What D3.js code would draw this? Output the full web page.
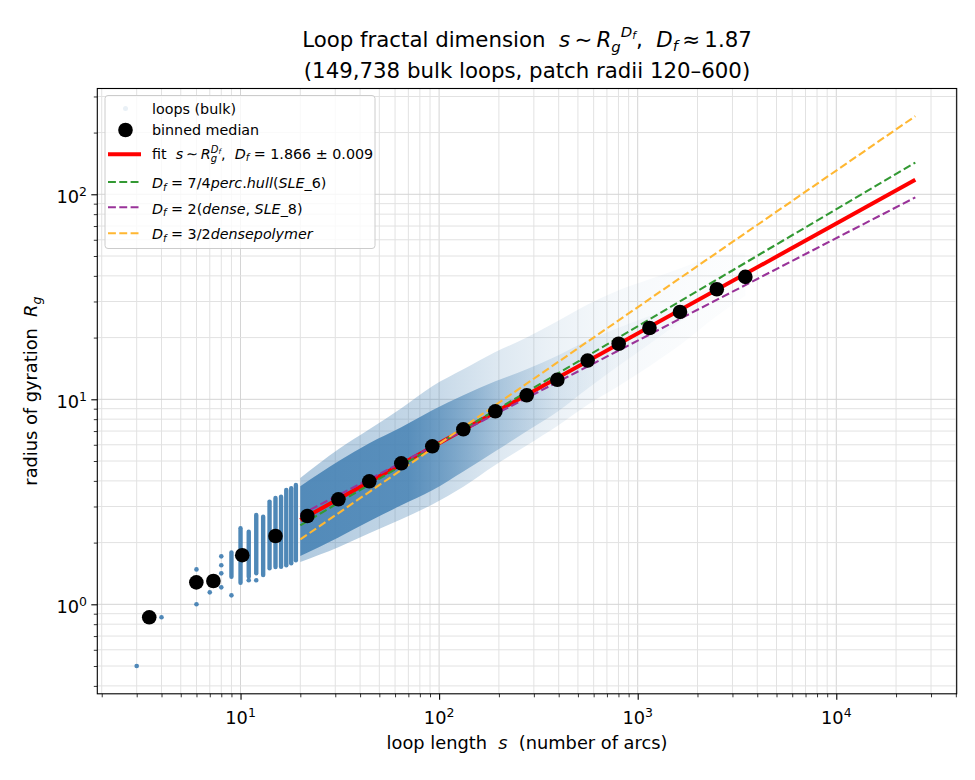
<!DOCTYPE html>
<html>
<head>
<meta charset="utf-8">
<script src="https://cdn.jsdelivr.net/npm/d3@7"></script>
<style>
  html, body { margin: 0; padding: 0; background: #fff; }
  svg { display: block; }
  text { font-family: "DejaVu Sans", sans-serif; fill: #000; }
</style>
</head>
<body>
<svg id="chart" width="975" height="780"></svg>
<script>
// ---------------- data ----------------
// binned medians
const medianS = [3.47, 5.99, 7.30, 10.2, 15.0, 21.7, 31.1, 44.5, 64.5, 92.4, 132.4, 191.9, 276.1, 393.8, 559.5, 802, 1146, 1633, 2502, 3483];
const medianR = [0.864, 1.280, 1.299, 1.736, 2.154, 2.696, 3.252, 3.981, 4.873, 5.898, 7.140, 8.739, 10.46, 12.45, 15.45, 18.66, 22.27, 26.67, 34.41, 39.55];

// isolated loops at small s
const pointS = [3, 4, 6, 6, 6, 7, 7, 8, 8, 8, 8, 9, 11, 12];
const pointR = [0.5, 0.864, 1.0, 1.28, 1.48, 1.144, 1.30, 1.714, 1.55, 1.416, 1.21, 1.106, 1.31, 1.31];

// dense integer-s columns (min / max Rg)
const colS  = [9, 10, 11, 12, 13, 14, 15, 16, 17, 18, 19];
const colLo = [1.363, 1.274, 1.363, 1.416, 1.39, 1.50, 1.52, 1.525, 1.55, 1.585, 1.64];
const colHi = [1.79, 2.35, 2.26, 2.73, 2.675, 3.17, 3.30, 3.35, 3.61, 3.68, 3.82];

// scatter cloud envelope for s >= 20
const cloudS       = [20, 31.1, 44.5, 64.5, 92.4, 132.4, 191.9, 276, 394, 560, 802, 1146, 1633, 2502, 3483];
const cloudOuterHi = [4.13, 5.70, 7.14, 9.04, 11.57, 14.0, 17.0, 20.0, 24.0, 29.0, 34.0, 38.5, 43.5, 50.0, 51.5];
const cloudInnerHi = [3.77, 4.98, 6.10, 7.30, 8.84, 10.46, 12.24, 14.01, 16.30, 19.33, 22.33, 25.49, 29.16, 35.98, 39.55];
const cloudInnerLo = [1.72, 2.12, 2.54, 3.04, 3.60, 4.45, 5.58, 6.98, 8.69, 11.28, 14.57, 18.62, 23.83, 32.89, 39.55];
const cloudOuterLo = [1.61, 1.90, 2.22, 2.60, 3.07, 3.75, 4.78, 5.95, 7.40, 9.40, 11.6, 14.5, 18.4, 25.5, 32.0];

// fit and reference power laws: endpoints (s, Rg)
const lineNames = ["fit", "perc", "dense", "polymer"];
const lineS0 = [20, 20, 20, 20];
const lineS1 = [25000, 25000, 25000, 25000];
const lineR0 = [2.575, 2.427, 2.733, 2.073];
const lineR1 = [117.6, 142.8, 96.6, 240.5];

// ticks
const xMajorTicks = [10, 100, 1000, 10000];
const xMajorExp = ["1", "2", "3", "4"];
const yMajorTicks = [1, 10, 100];
const yMajorExp = ["0", "1", "2"];

// ---------------- layout ----------------
const svg = d3.select("#chart");
const L = 97.3, R = 956.7, T = 88.5, B = 693.8;
const x = d3.scaleLog().domain([1.90, 40400]).range([L, R]);
const y = d3.scaleLog().domain([0.366, 328.1]).range([B, T]);
const steel = "#4682b4";

const defs = svg.append("defs");
defs.append("clipPath").attr("id", "plotclip")
  .append("rect").attr("x", L).attr("y", T).attr("width", R - L).attr("height", B - T);

// grid
const isMajor = v => Math.abs(Math.log10(v) - Math.round(Math.log10(v))) < 1e-9;
const xAll = x.ticks().filter(v => v >= x.domain()[0] && v <= x.domain()[1]);
const yAll = y.ticks().filter(v => v >= y.domain()[0] && v <= y.domain()[1]);
const grid = svg.append("g");
grid.selectAll("line.gx").data(xAll).join("line")
  .attr("x1", d => x(d)).attr("x2", d => x(d)).attr("y1", T).attr("y2", B)
  .attr("stroke", d => isMajor(d) ? "#d4d4d4" : "#e2e2e2").attr("stroke-width", 1);
grid.selectAll("line.gy").data(yAll).join("line")
  .attr("y1", d => y(d)).attr("y2", d => y(d)).attr("x1", L).attr("x2", R)
  .attr("stroke", d => isMajor(d) ? "#d4d4d4" : "#e2e2e2").attr("stroke-width", 1);

const plot = svg.append("g").attr("clip-path", "url(#plotclip)");

// cloud gradients (opacity fades with s)
function makeGrad(id, stopsS, alphas) {
  const x1 = x(cloudS[0]), x2 = x(cloudS[cloudS.length - 1]);
  const gr = defs.append("linearGradient").attr("id", id)
    .attr("gradientUnits", "userSpaceOnUse")
    .attr("x1", x1).attr("x2", x2).attr("y1", 0).attr("y2", 0);
  stopsS.forEach((s, i) => {
    gr.append("stop").attr("offset", (x(s) - x1) / (x2 - x1))
      .attr("stop-color", steel).attr("stop-opacity", alphas[i]);
  });
}
makeGrad("gOuter", [20, 100, 200, 400, 800, 2000, 3483], [0.42, 0.3, 0.18, 0.1, 0.05, 0.025, 0.015]);
makeGrad("gInner", [20, 70, 120, 200, 400, 800, 3483], [0.88, 0.85, 0.6, 0.35, 0.14, 0.05, 0.01]);

const cloud = cloudS.map((s, i) => ({ s, oh: cloudOuterHi[i], ih: cloudInnerHi[i], il: cloudInnerLo[i], ol: cloudOuterLo[i] }));
const areaOuter = d3.area().x(d => x(d.s)).y0(d => y(d.ol)).y1(d => y(d.oh)).curve(d3.curveMonotoneX);
const areaInner = d3.area().x(d => x(d.s)).y0(d => y(d.il)).y1(d => y(d.ih)).curve(d3.curveMonotoneX);
plot.append("path").datum(cloud).attr("d", areaOuter).attr("fill", "url(#gOuter)");
plot.append("path").datum(cloud).attr("d", areaInner).attr("fill", "url(#gInner)");

// integer-s columns
plot.selectAll("line.col").data(colS).join("line")
  .attr("x1", d => x(d)).attr("x2", d => x(d))
  .attr("y1", (d, i) => y(colLo[i])).attr("y2", (d, i) => y(colHi[i]))
  .attr("stroke", steel).attr("stroke-width", 4.4).attr("stroke-linecap", "round").attr("opacity", 0.95);

// isolated points
plot.selectAll("circle.pt").data(pointS).join("circle")
  .attr("cx", d => x(d)).attr("cy", (d, i) => y(pointR[i])).attr("r", 2.3)
  .attr("fill", steel).attr("opacity", 0.95);

// lines
const lineStyle = {
  fit:     { color: "#ff0000", width: 4, dash: null },
  perc:    { color: "#339933", width: 2.1, dash: "7.9,3.4" },
  dense:   { color: "#993399", width: 2.1, dash: "7.9,3.4" },
  polymer: { color: "#ffb732", width: 2.1, dash: "7.9,3.4" }
};
const lineGen = d3.line().x(d => x(d[0])).y(d => y(d[1]));
lineNames.forEach((n, i) => {
  const st = lineStyle[n];
  plot.append("path").datum([[lineS0[i], lineR0[i]], [lineS1[i], lineR1[i]]])
    .attr("d", lineGen).attr("fill", "none")
    .attr("stroke", st.color).attr("stroke-width", st.width)
    .attr("stroke-dasharray", st.dash);
});

// medians
plot.selectAll("circle.med").data(medianS).join("circle")
  .attr("cx", d => x(d)).attr("cy", (d, i) => y(medianR[i])).attr("r", 7.3).attr("fill", "#000");

// axes frame & ticks
const xMinor = xAll.filter(v => !isMajor(v));
const yMinor = yAll.filter(v => !isMajor(v));
const axX = svg.append("g").attr("transform", `translate(0,${B})`);
axX.call(d3.axisBottom(x).tickValues(xMajorTicks).tickSize(6).tickFormat(""));
const axXm = svg.append("g").attr("transform", `translate(0,${B})`);
axXm.call(d3.axisBottom(x).tickValues(xMinor).tickSize(3.5).tickFormat(""));
const axY = svg.append("g").attr("transform", `translate(${L},0)`);
axY.call(d3.axisLeft(y).tickValues(yMajorTicks).tickSize(6).tickFormat(""));
const axYm = svg.append("g").attr("transform", `translate(${L},0)`);
axYm.call(d3.axisLeft(y).tickValues(yMinor).tickSize(3.5).tickFormat(""));
[axX, axXm, axY, axYm].forEach(a => { a.select(".domain").remove(); });
axX.selectAll("line").attr("stroke", "#000").attr("stroke-width", 1.1);
axY.selectAll("line").attr("stroke", "#000").attr("stroke-width", 1.1);
axXm.selectAll("line").attr("stroke", "#000").attr("stroke-width", 0.8);
axYm.selectAll("line").attr("stroke", "#000").attr("stroke-width", 0.8);
svg.append("rect").attr("x", L).attr("y", T).attr("width", R - L).attr("height", B - T)
  .attr("fill", "none").attr("stroke", "#000").attr("stroke-width", 1.1);

// tick labels with superscripts
const tickFS = 17.8;
xMajorTicks.forEach((v, i) => {
  const t = svg.append("text").attr("x", x(v)).attr("y", 724).attr("text-anchor", "middle")
    .style("font-size", tickFS + "px");
  t.append("tspan").text("10");
  t.append("tspan").text(xMajorExp[i]).style("font-size", (tickFS * 0.7) + "px").attr("dy", -7);
});
yMajorTicks.forEach((v, i) => {
  const t = svg.append("text").attr("x", 87).attr("y", y(v) + 8.5).attr("text-anchor", "end")
    .style("font-size", tickFS + "px");
  t.append("tspan").text("10");
  t.append("tspan").text(yMajorExp[i]).style("font-size", (tickFS * 0.7) + "px").attr("dy", -7);
});

// math text helper: one <text> element, one absolutely-placed tspan per part
const measurer = svg.append("text").attr("x", -1000).attr("y", -1000)
  .attr("xml:space", "preserve").style("white-space", "pre");
function measure(str, size, italic) {
  measurer.style("font-size", size + "px").style("font-style", italic ? "italic" : "normal").text(str);
  return measurer.node().getComputedTextLength();
}
function mathText(parent, parts, fs) {
  let cx = 0, maxEnd = 0;
  const marks = {};
  const placed = [];
  parts.forEach(p => {
    if (p.at !== undefined) cx = marks[p.at];
    if (p.max) cx = Math.max(cx, maxEnd);
    if (p.mark) marks[p.mark] = cx;
    const size = fs * (p.s || 1);
    placed.push({ p, x: cx, size });
    cx += measure(p.t, size, p.it);
    maxEnd = Math.max(maxEnd, cx);
  });
  const g = parent.append("g");
  const t = g.append("text").attr("xml:space", "preserve").style("white-space", "pre")
    .style("font-size", fs + "px");
  placed.forEach(o => {
    t.append("tspan").attr("x", o.x).attr("y", (o.p.dy || 0) * fs)
      .style("font-size", o.size + "px").style("font-style", o.p.it ? "italic" : "normal")
      .text(o.p.t);
  });
  return { g, width: maxEnd };
}
const th = "\u2009";

// title (sub- and superscript set side by side to keep their boxes apart)
const titleFS = 21.3;
const t1 = mathText(svg, [
  { t: "Loop fractal dimension  " }, { t: "s", it: true }, { t: th + "\u223C" + th },
  { t: "R", it: true }, { t: "g", it: true, s: 0.7, dy: 0.22 },
  { t: "D", it: true, s: 0.7, dy: -0.45 }, { t: "f", it: true, s: 0.5, dy: -0.36 },
  { t: ",  " }, { t: "D", it: true }, { t: "f", it: true, s: 0.7, dy: 0.18 },
  { t: th + "\u2248" + th + "1.87" }
], titleFS);
t1.g.attr("transform", `translate(${(L + R) / 2 - t1.width / 2},47)`);
svg.append("text").attr("x", (L + R) / 2).attr("y", 78).attr("text-anchor", "middle")
  .style("font-size", titleFS + "px").text("(149,738 bulk loops, patch radii 120\u2013600)");

// axis labels
const labFS = 17.8;
const xl = mathText(svg, [
  { t: "loop length  " }, { t: "s", it: true }, { t: "  (number of arcs)" }
], labFS);
xl.g.attr("transform", `translate(${(L + R) / 2 - xl.width / 2},749)`);
const yl = mathText(svg, [
  { t: "radius of gyration  " }, { t: "R", it: true }, { t: "g", it: true, s: 0.7, dy: 0.22 }
], labFS);
yl.g.attr("transform", `translate(37,${(T + B) / 2 + yl.width / 2}) rotate(-90)`);

// legend
const legFS = 14.3;
const leg = svg.append("g");
leg.append("rect").attr("x", 105).attr("y", 95.5).attr("width", 270).attr("height", 153)
  .attr("rx", 3).attr("fill", "#fff").attr("fill-opacity", 0.8)
  .attr("stroke", "#cccccc").attr("stroke-width", 1);
leg.append("circle").attr("cx", 125.5).attr("cy", 108.5).attr("r", 2.5).attr("fill", steel).attr("opacity", 0.12);
leg.append("circle").attr("cx", 125.5).attr("cy", 130).attr("r", 7.3).attr("fill", "#000");
const legLineY = [154.3, 182, 207.3, 233.3];
lineNames.forEach((n, i) => {
  const st = lineStyle[n];
  leg.append("line").attr("x1", 108).attr("x2", 141).attr("y1", legLineY[i]).attr("y2", legLineY[i])
    .attr("stroke", st.color).attr("stroke-width", st.width).attr("stroke-dasharray", st.dash);
});
leg.append("text").attr("x", 152).attr("y", 114).style("font-size", legFS + "px").text("loops (bulk)");
leg.append("text").attr("x", 152).attr("y", 134.5).style("font-size", legFS + "px").text("binned median");
const legTexts = [
  [{ t: "fit  " }, { t: "s", it: true }, { t: th + "\u223C" + th }, { t: "R", it: true },
   { t: "g", it: true, s: 0.7, dy: 0.22, mark: "r" }, { t: "D", it: true, s: 0.7, dy: -0.42, at: "r" },
   { t: "f", it: true, s: 0.5, dy: -0.33 }, { t: ",  ", max: true }, { t: "D", it: true },
   { t: "f", it: true, s: 0.7, dy: 0.18 }, { t: " = 1.866 \u00B1 0.009" }],
  [{ t: "D", it: true }, { t: "f", it: true, s: 0.7, dy: 0.18 }, { t: " = 7/4" }, { t: "perc", it: true },
   { t: "." }, { t: "hull", it: true }, { t: "(" }, { t: "SLE", it: true }, { t: "_6)" }],
  [{ t: "D", it: true }, { t: "f", it: true, s: 0.7, dy: 0.18 }, { t: " = 2(" }, { t: "dense", it: true },
   { t: ", " }, { t: "SLE", it: true }, { t: "_8)" }],
  [{ t: "D", it: true }, { t: "f", it: true, s: 0.7, dy: 0.18 }, { t: " = 3/2" }, { t: "densepolymer", it: true }]
];
const legBase = [158.5, 188.3, 213.5, 239];
legTexts.forEach((parts, i) => {
  const m = mathText(leg, parts, legFS);
  m.g.attr("transform", `translate(152,${legBase[i]})`);
});
measurer.remove();
</script>
</body>
</html>
